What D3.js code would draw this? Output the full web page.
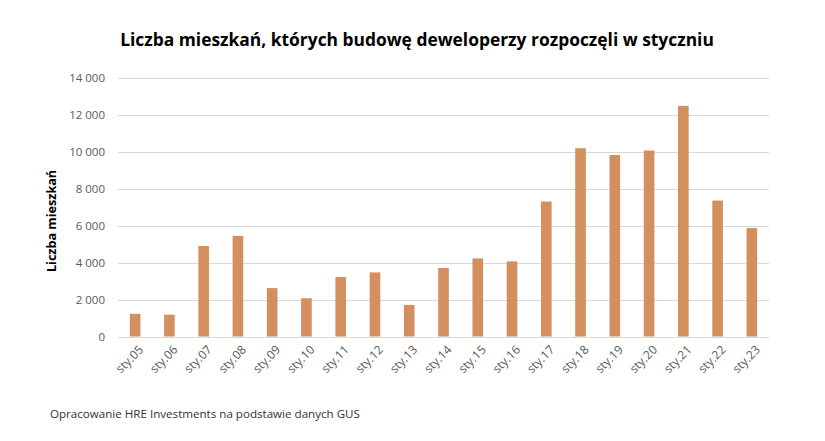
<!DOCTYPE html>
<html><head><meta charset="utf-8">
<script src="https://cdn.jsdelivr.net/npm/d3@7"></script>
<style>body{margin:0;background:#fff;} svg{display:block;}</style>
</head><body>
<svg id="chart" width="825" height="441"></svg>
<script>
const categories = ["sty.05","sty.06","sty.07","sty.08","sty.09","sty.10","sty.11","sty.12","sty.13","sty.14","sty.15","sty.16","sty.17","sty.18","sty.19","sty.20","sty.21","sty.22","sty.23"];
const values = [1230,1180,4900,5450,2620,2070,3220,3470,1710,3710,4230,4070,7310,10200,9830,10070,12490,7360,5870];
const yTicks = [0,2000,4000,6000,8000,10000,12000,14000];
const title = "Liczba mieszkań, których budowę deweloperzy rozpoczęli w styczniu";
const yTitle = "Liczba mieszkań";
const source = "Opracowanie HRE Investments na podstawie danych GUS";

const svg = d3.select("#chart");
const font = "'Open Sans', sans-serif";
const mLeft = 118, mRight = 769, mTop = 78, mBottom = 336.5;

const x = d3.scaleBand().domain(categories).range([mLeft, mRight]).paddingInner(0.69).paddingOuter(0.345);
const y = d3.scaleLinear().domain([0, 14000]).range([mBottom, mTop]);

const fmt = v => d3.format(",")(v).replace(/,/g, " ");

// gridlines
svg.append("g").selectAll("line").data(yTicks).join("line")
  .attr("x1", mLeft).attr("x2", mRight)
  .attr("y1", d => Math.round(y(d)) + 0.5).attr("y2", d => Math.round(y(d)) + 0.5)
  .attr("stroke", "#d9d9d9").attr("stroke-width", 1);

// y axis labels
const yAxis = d3.axisLeft(y).tickValues(yTicks).tickFormat(fmt).tickSize(0).tickPadding(13);
const yg = svg.append("g").attr("transform", `translate(${mLeft},0)`).call(yAxis);
yg.select(".domain").remove();
yg.selectAll("text").attr("font-family", font).attr("font-size", 11.5).attr("fill", "#595959");

// bars
svg.append("g").selectAll("rect").data(values).join("rect")
  .attr("x", (d, i) => x(categories[i]))
  .attr("width", x.bandwidth())
  .attr("y", d => y(d))
  .attr("height", d => y(0) - y(d))
  .attr("fill", "#d38f5d");

// x axis
const xAxis = d3.axisBottom(x).tickSize(0).tickPadding(6);
const xg = svg.append("g").attr("transform", `translate(0,${mBottom})`).call(xAxis);
xg.select(".domain").remove();
xg.selectAll("text")
  .attr("font-family", font).attr("font-size", 12).attr("fill", "#595959")
  .attr("text-anchor", "end")
  .attr("transform", "translate(6,11) rotate(-45)")
  .attr("dy", "0.35em").attr("y", 0).attr("x", 0);

// title
svg.append("text").attr("x", 417).attr("y", 46).attr("text-anchor", "middle")
  .attr("font-family", font).attr("font-weight", "bold").attr("font-size", 17.4).attr("fill", "#000")
  .text(title);

// y title
svg.append("text").attr("transform", "translate(56,221) rotate(-90)").attr("text-anchor", "middle")
  .attr("font-family", font).attr("font-weight", "bold").attr("font-size", 12.6).attr("fill", "#000")
  .text(yTitle);

// source
svg.append("text").attr("x", 50).attr("y", 418)
  .attr("font-family", font).attr("font-size", 11.6).attr("fill", "#333")
  .text(source);
</script>
</body></html>
